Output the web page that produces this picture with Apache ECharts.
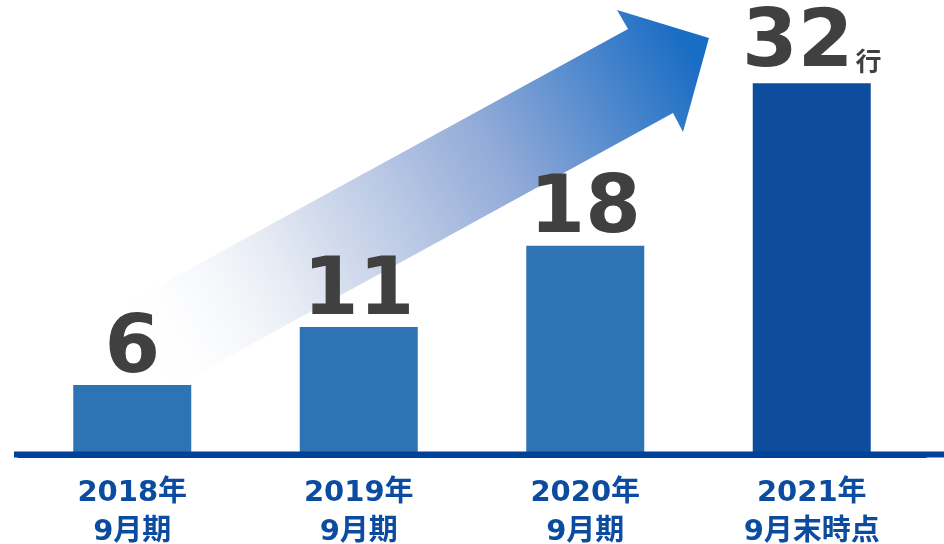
<!DOCTYPE html>
<html>
<head>
<meta charset="utf-8">
<title>chart</title>
<script src="https://cdn.jsdelivr.net/npm/echarts@6/dist/echarts.min.js"></script>
<style>
html,body{margin:0;padding:0;background:#fff;}
#main{width:944px;height:544px;}
</style>
</head>
<body>
<div id="main"></div>
<script>
var categories=['2018年\n9月期','2019年\n9月期','2020年\n9月期','2021年\n9月末時点'];
var values=[6,11,18,32];
var unitText='行';
var barColors=['#2e74b5','#2e74b5','#2e74b5','#0e4d9d'];

var numFont="'DejaVu Sans','Noto Sans CJK JP',sans-serif";

function buildData(){
	var arr=[];
	for(var i=0;i<values.length;i++){
		var item={value:values[i],itemStyle:{color:barColors[i]}};
		// 最後の棒は「行」付き
		if(i==values.length-1){
			item.label={
				formatter:'{n|{c}}{u|'+unitText+'}',
				distance:-2,
				rich:{
					n:{fontSize:80,fontWeight:'bold',color:'#404040',fontFamily:numFont,lineHeight:80},
					u:{fontSize:26,fontWeight:'bold',color:'#404040',fontFamily:"'Noto Sans CJK JP',sans-serif",padding:[0,0,11,2],lineHeight:40,verticalAlign:'bottom'}
				}
			};
		}
		arr.push(item);
	}
	return arr;
}

var chart=echarts.init(document.getElementById('main'));
chart.setOption({
	animation:false,
	grid:{left:19,right:19,top:48.5,bottom:89.5,outerBoundsMode:'none'},
	// 矢印（装飾）
	graphic:[
		{
			type:'polygon',
			z:-10,
			shape:{points:[[120,307],[628,29],[617,10],[709,38],[683,132],[673,113],[166,391]]},
			style:{
				fill:{
					type:'linear',global:true,
					x:150,y:380,x2:700,y2:70,
					colorStops:[
						{offset:0,color:'rgba(255,255,255,0)'},
						{offset:0.3,color:'#dfe5f1'},
						{offset:0.65,color:'#93abd8'},
						{offset:1,color:'#1a6dc4'}
					]
				}
			}
		},
		{
			type:'rect',
			z:100,
			shape:{x:14,y:451.5,width:930,height:6},
			style:{fill:'#00419a'}
		}
	],
	xAxis:{
		type:'category',
		data:categories,
		axisTick:{show:false},
		axisLine:{show:true,lineStyle:{color:'#00419a',width:6}},
		axisLabel:{
			margin:19,
			color:'#0c4ca0',
			fontSize:29,
			fontWeight:'bold',
			lineHeight:39,
			fontFamily:numFont
		}
	},
	yAxis:{
		type:'value',
		min:0,
		max:35,
		show:false,
		splitLine:{show:false}
	},
	series:[{
		type:'bar',
		barWidth:118,
		data:buildData(),
		label:{
			show:true,
			position:'top',
			distance:-6,
			fontSize:80,
			fontWeight:'bold',
			color:'#404040',
			fontFamily:numFont
		}
	}]
});
</script>
</body>
</html>
